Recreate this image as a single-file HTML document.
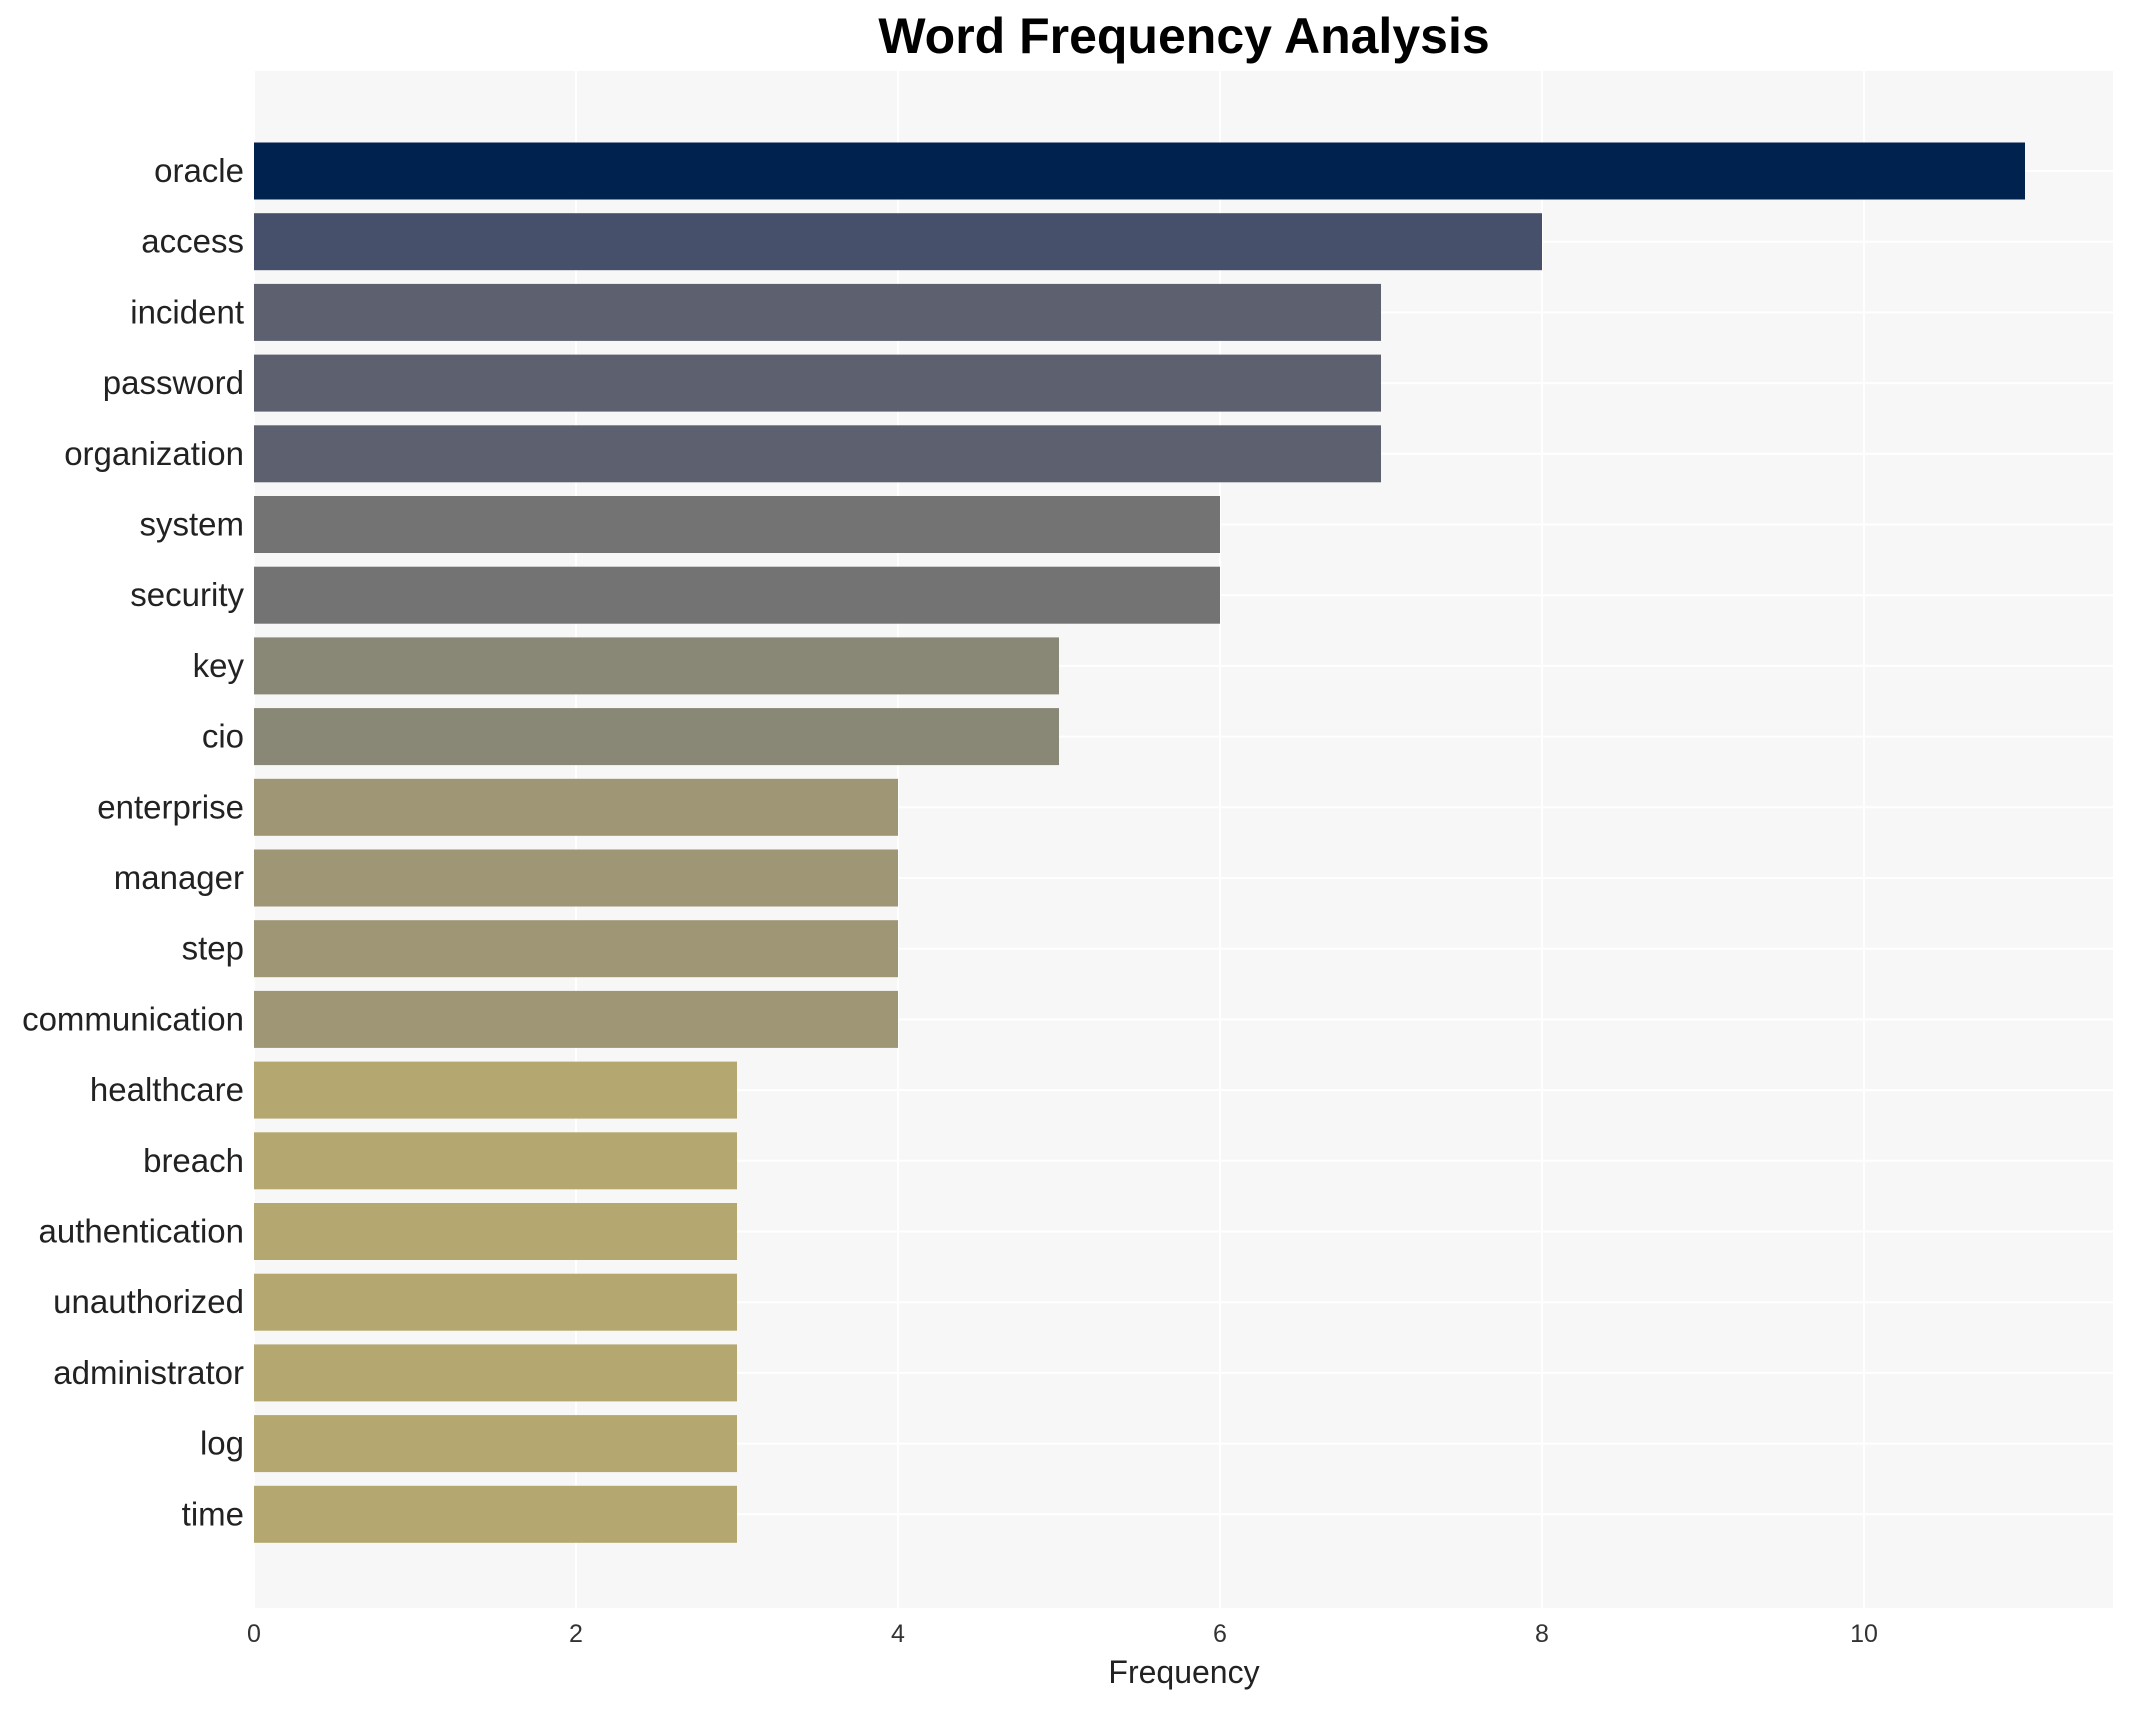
<!DOCTYPE html>
<html><head><meta charset="utf-8"><style>
html,body{margin:0;padding:0;background:#fff;}
svg{display:block;font-family:"Liberation Sans",Arial,sans-serif;}
</style></head><body>
<svg id="chart" width="2133" height="1710" xmlns="http://www.w3.org/2000/svg">
<rect x="254" y="71" width="1859" height="1537" fill="#f7f7f7"/>
<text x="1184" y="53" text-anchor="middle" font-size="50" font-weight="bold" fill="#000">Word Frequency Analysis</text>
<text x="1184" y="1683" text-anchor="middle" font-size="32" fill="#222">Frequency</text>
<g id="grid"></g><g id="bars"></g><g id="ylabels"></g><g id="xticks"></g>
</svg>
<script>
const categories=["oracle","access","incident","password","organization","system","security","key","cio","enterprise","manager","step","communication","healthcare","breach","authentication","unauthorized","administrator","log","time"];
const values=[11,8,7,7,7,6,6,5,5,4,4,4,4,3,3,3,3,3,3,3];
const xTicks=[0,2,4,6,8,10];
const colorByValue={11:"#00224e",8:"#46506b",7:"#5d616f",6:"#737373",5:"#898775",4:"#9e9675",3:"#b4a870"};
const NS="http://www.w3.org/2000/svg";
const left=254,pxPer=161,top0=171,step=70.7,bh=57;
const xs=v=>left+v*pxPer, ys=i=>top0+i*step;
const grid=document.getElementById('grid'),bars=document.getElementById('bars'),yl=document.getElementById('ylabels'),xt=document.getElementById('xticks');
function mk(t,a){const e=document.createElementNS(NS,t);for(const k in a)e.setAttribute(k,a[k]);return e;}
xTicks.forEach(t=>{
 const l=mk('line',{x1:xs(t),x2:xs(t),y1:71,y2:1608,stroke:"#fff","stroke-width":2});
 
 
 grid.appendChild(l);
 const tx=mk('text',{x:xs(t),y:1642,"text-anchor":"middle","font-size":25,fill:"#333"});
 tx.textContent=t;
 
 
 xt.appendChild(tx);
});
categories.forEach((c,i)=>{
 const g=mk('line',{x1:254,x2:2113,y1:ys(i),y2:ys(i),stroke:"#fff","stroke-width":2});
 
 
 grid.appendChild(g);
 const r=mk('rect',{x:xs(0),y:ys(i)-bh/2,width:xs(values[i])-xs(0),height:bh,fill:colorByValue[values[i]]||"#b4a870"});
 
 
 bars.appendChild(r);
 const t=mk('text',{x:244,y:ys(i)+11,"text-anchor":"end","font-size":33,fill:"#222"});
 t.textContent=c;
 
 
 yl.appendChild(t);
});
</script>
</body></html>
